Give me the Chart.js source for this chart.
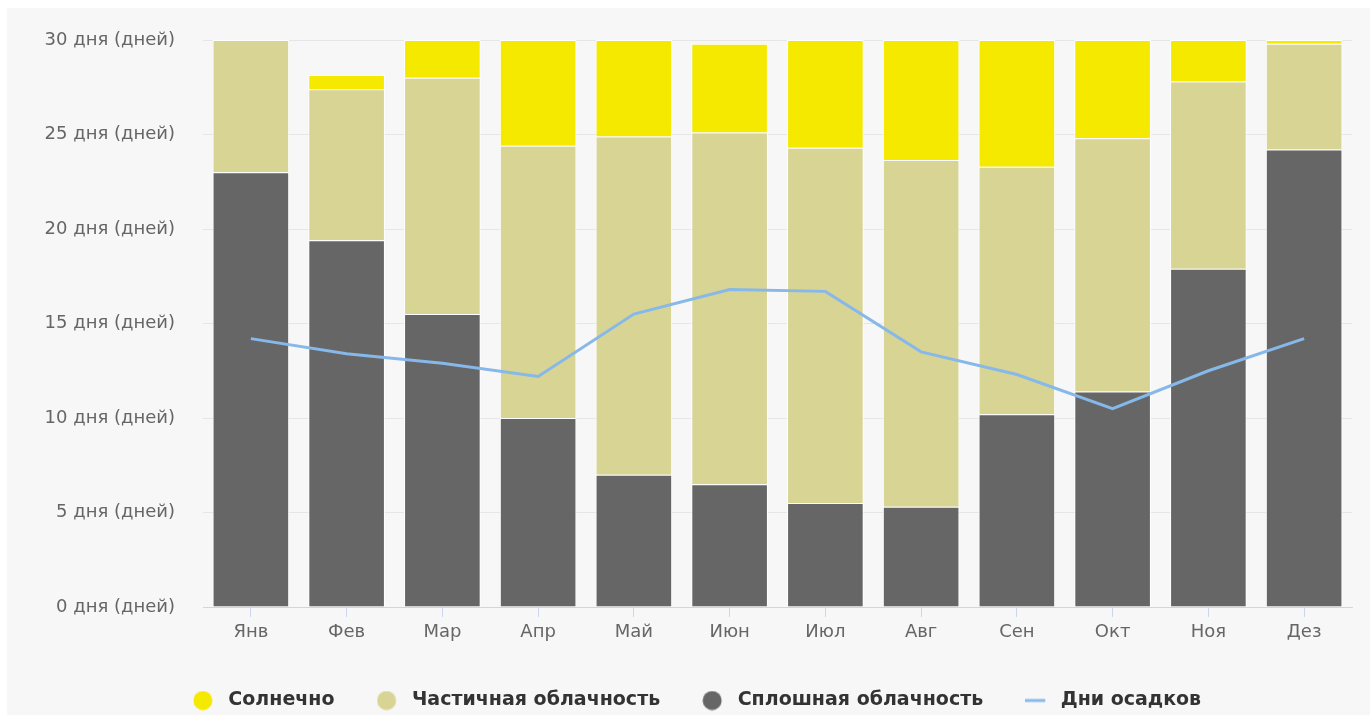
<!DOCTYPE html>
<html>
<head>
<meta charset="utf-8">
<script src="https://cdn.jsdelivr.net/npm/chart.js@4.4.1/dist/chart.umd.min.js"></script>
<style>
    html, body { margin: 0; padding: 0; background: #ffffff; overflow: hidden; }
    #wrap { position: absolute; left: 7px; top: 8px; width: 1363px; height: 707px; background: #f7f7f7; }
    #box { position: absolute; left: 0; top: 5px; width: 1370px; height: 715px; }
</style>
</head>
<body>
<div id="wrap"></div>
<div id="box"><canvas id="cloudChart"></canvas></div>
<script>
const months = ["Янв", "Фев", "Мар", "Апр", "Май", "Июн", "Июл", "Авг", "Сен", "Окт", "Ноя", "Дез"];

// days per month
const overcastDays = [23, 19.4, 15.5, 10, 7, 6.5, 5.5, 5.3, 10.2, 11.4, 17.9, 24.2];
const partlyDays   = [7, 8, 12.5, 14.4, 17.9, 18.6, 18.8, 18.35, 13.1, 13.4, 9.9, 5.6];
const sunnyDays    = [0, 0.75, 2, 5.6, 5.1, 4.7, 5.7, 6.35, 6.7, 5.2, 2.2, 0.2];
const rainDays     = [14.2, 13.4, 12.9, 12.2, 15.5, 16.8, 16.7, 13.5, 12.3, 10.5, 12.5, 14.2];

const yTicks = [0, 5, 10, 15, 20, 25, 30];

const legendOrder = ["Солнечно", "Частичная облачность", "Сплошная облачность", "Дни осадков"];

// legend markers: small canvases so the gap to the text can be set
function makeMarker(color, kind) {
    const c = document.createElement('canvas');
    c.width = 26;
    c.height = 20;
    const g = c.getContext('2d');
    g.fillStyle = color;
    g.strokeStyle = color;
    if (kind === 'line') {
        g.lineWidth = 3;
        g.beginPath();
        g.moveTo(0, 10);
        g.lineTo(20, 10);
        g.stroke();
    } else {
        g.beginPath();
        g.arc(10, 10, 9.5, 0, Math.PI * 2);
        g.fill();
    }
    return c;
}

const ctx = document.getElementById('cloudChart');

new Chart(ctx, {
    type: 'bar',
    data: {
        labels: months,
        datasets: [
            {
                type: 'line',
                label: 'Дни осадков',
                data: rainDays,
                borderColor: '#86b8ea',
                backgroundColor: '#86b8ea',
                borderWidth: 3,
                pointRadius: 0,
                pointStyle: makeMarker('#86b8ea', 'line'),
                tension: 0,
                order: 0
            },
            {
                label: 'Сплошная облачность',
                data: overcastDays,
                backgroundColor: '#666666',
                borderColor: '#ffffff',
                borderWidth: 1,
                pointStyle: makeMarker('#666666'),
                order: 1
            },
            {
                label: 'Частичная облачность',
                data: partlyDays,
                backgroundColor: '#d8d494',
                borderColor: '#ffffff',
                borderWidth: 1,
                pointStyle: makeMarker('#d8d494'),
                order: 1
            },
            {
                label: 'Солнечно',
                data: sunnyDays,
                backgroundColor: '#f5e900',
                borderColor: '#ffffff',
                borderWidth: 1,
                pointStyle: makeMarker('#f5e900'),
                order: 1
            }
        ]
    },
    options: {
        responsive: true,
        maintainAspectRatio: false,
        animation: false,
        layout: {
            padding: { left: 42, right: 18, top: 35, bottom: 0 }
        },
        datasets: {
            bar: {
                categoryPercentage: 1,
                barPercentage: 0.8
            }
        },
        scales: {
            x: {
                stacked: true,
                grid: {
                    drawOnChartArea: false,
                    drawTicks: true,
                    tickLength: 10,
                    color: '#ccd6eb',
                    offset: false
                },
                border: { color: '#ccd6eb', width: 1 },
                ticks: {
                    color: '#666666',
                    font: { family: 'DejaVu Sans', size: 18 },
                    padding: 5
                },
                afterFit: (scale) => { scale.height = 42; }
            },
            y: {
                stacked: true,
                min: 0,
                max: 30,
                afterBuildTicks: (scale) => {
                    scale.ticks = yTicks.map(v => ({ value: v }));
                },
                grid: {
                    color: '#e6e6e6',
                    drawTicks: false
                },
                border: { display: false },
                ticks: {
                    color: '#666666',
                    // small lineHeight keeps the top label from pushing the plot down
                    font: { family: 'DejaVu Sans', size: 18, lineHeight: 0.5 },
                    padding: 28,
                    callback: (v) => v + ' дня (дней)'
                },
                afterFit: (scale) => { scale.width = 161; }
            }
        },
        plugins: {
            legend: {
                position: 'bottom',
                labels: {
                    usePointStyle: true,
                    boxHeight: 19,
                    pointStyleWidth: 26,
                    color: '#333333',
                    font: { family: 'DejaVu Sans', size: 19, weight: 'bold' },
                    padding: 42,
                    sort: (a, b) => legendOrder.indexOf(a.text) - legendOrder.indexOf(b.text)
                }
            },
            tooltip: { enabled: false }
        }
    }
});
</script>
</body>
</html>
